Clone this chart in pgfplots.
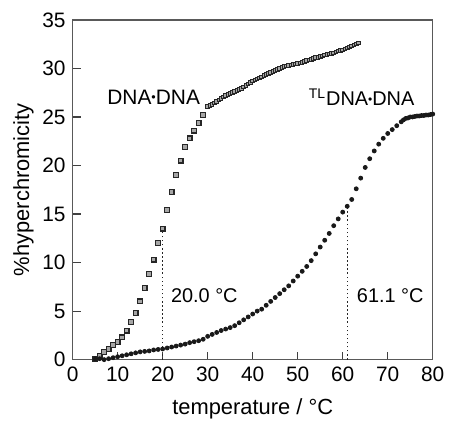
\documentclass[border=0pt]{standalone}
\usepackage{fontspec}
\setmainfont{Liberation Sans}
\usepackage{pgfplots}
\pgfplotsset{compat=1.18}
\usetikzlibrary{calc}

\newcommand{\bdot}{\raisebox{0.28ex}{\scalebox{0.6}{•}}}

\begin{document}
\begin{tikzpicture}
\begin{axis}[
    scale only axis,
    width=181pt, height=170.75pt,
    xmin=0, xmax=80,
    ymin=0, ymax=35,
    xtick={0,10,...,80},
    ytick={0,5,...,35},
    tick align=inside,
    xtick pos=bottom, ytick pos=left,
    major tick length=4pt,
    axis line style={draw=black!65, line width=0.7pt},
    tick style={black!75, line width=0.6pt},
    tick label style={font=\fontsize{10.5}{12}\selectfont},
    /pgf/number format/assume math mode=true,
    xlabel={temperature / °C},
    ylabel={\%hyperchromicity},
    label style={font=\fontsize{11}{13}\selectfont},
    xlabel style={yshift=-2pt},
    ylabel style={yshift=-2.5pt},
    clip=false,
]

% DNA.DNA
\addplot[only marks, mark=square*, mark size=1.2pt, draw=black!85,
         mark options={line width=0.6pt, fill=black!35}]
    coordinates {
    (5,0.1)(6,0.4)(7,0.8)(8,1.1)(9,1.5)(10,1.8)(11,2.3)(12,3.0)(13,3.9)(14,4.8)
    (15,6.0)(16,7.4)(17,8.8)(18,10.3)(19,12.0)(20,13.5)(21,15.4)(22,17.3)(23,19.0)
    (24,20.5)(25,21.9)(26,22.8)(27,23.6)(28,24.4)(29,25.2)
    };
\addplot[only marks, mark=square*, mark size=0.9pt, draw=black!85,
         mark options={line width=0.5pt, fill=black!35}]
    coordinates {
    (30,26.1)(30.5,26.2)(31,26.3)(31.5,26.45)(32,26.6)(32.5,26.75)(33,26.9)(33.5,27.05)
    (34,27.2)(34.5,27.3)(35,27.4)(35.5,27.5)(36,27.6)(36.5,27.7)(37,27.8)(37.5,27.95)
    (38,28.1)(38.5,28.25)(39,28.4)(39.5,28.55)(40,28.7)(40.5,28.8)(41,28.9)(41.5,29.0)
    (42,29.1)(42.5,29.25)(43,29.4)(43.5,29.5)(44,29.6)(44.5,29.7)(45,29.8)(45.5,29.9)
    (46,30.0)(46.5,30.1)(47,30.2)(47.5,30.25)(48,30.3)(48.5,30.35)(49,30.4)(49.5,30.45)
    (50,30.5)(50.5,30.55)(51,30.6)(51.5,30.7)(52,30.8)(52.5,30.85)(53,30.9)(53.5,31.0)
    (54,31.1)(54.5,31.15)(55,31.2)(55.5,31.3)(56,31.4)(56.5,31.45)(57,31.5)(57.5,31.55)
    (58,31.6)(58.5,31.7)(59,31.8)(59.5,31.85)(60,31.9)(60.5,32.0)(61,32.1)(61.5,32.2)
    (62,32.3)(62.5,32.4)(63,32.5)(63.5,32.6)
    };

% TLDNA.DNA
\addplot[only marks, mark=*, mark size=1.0pt, black!90]
    coordinates {
    (5,0.1)(6,0.1)(7,0.0)(8,0.1)(9,0.2)(10,0.3)(11,0.4)(12,0.5)(13,0.6)(14,0.7)
    (15,0.8)(16,0.85)(17,0.9)(18,1.0)(19,1.05)(20,1.1)(21,1.2)(22,1.3)(23,1.4)(24,1.5)
    (25,1.6)(26,1.75)(27,1.85)(28,1.95)(29,2.1)(30,2.4)(31,2.6)(32,2.8)(33,3.0)(34,3.15)
    (35,3.3)(36,3.5)(37,3.8)(38,4.1)(39,4.4)(40,4.7)(41,5.0)(42,5.2)(43,5.6)(44,6.0)
    (45,6.4)(46,6.8)(47,7.2)(48,7.6)(49,8.1)(50,8.6)(51,9.1)(52,9.6)(53,10.2)(54,10.9)
    (55,11.6)(56,12.3)(57,13.0)(58,13.8)(59,14.5)(60,15.2)(61,15.8)(62,16.5)(63,17.6)
    (64,18.7)(65,19.8)(66,20.7)(67,21.5)(68,22.2)(69,22.8)(70,23.3)(71,23.7)(72,24.1)
    (73,24.5)(73.5,24.7)(74,24.85)(74.5,24.9)(75,25.0)(75.5,25.0)(76,25.05)(76.5,25.1)
    (77,25.1)(77.5,25.15)(78,25.15)(78.5,25.2)(79,25.2)(79.5,25.25)(80,25.3)
    };

% Tm markers
\addplot[black!85, line width=0.75pt, dash pattern=on 0.75pt off 1.3pt] coordinates {(20,0)(20,13.5)};
\addplot[black!85, line width=0.75pt, dash pattern=on 0.75pt off 1.3pt] coordinates {(61.1,0)(61.1,15.8)};

\node[font=\fontsize{10}{12}\selectfont, anchor=west] at (axis cs:20.3,6.6) {20.0 °C};
\node[font=\fontsize{10}{12}\selectfont, anchor=west] at (axis cs:61.6,6.6) {61.1 °C};
\node[font=\fontsize{10.5}{12}\selectfont] at (axis cs:18.0,27.0) {DNA\bdot DNA};
\node[font=\fontsize{10}{12}\selectfont] at (axis cs:64.2,27.0) {\textsuperscript{TL}DNA\bdot DNA};
\end{axis}
\path ($(current axis.south west)+(-36.5pt,-33.75pt)$) rectangle ($(current axis.north east)+(8pt,10pt)$);
\end{tikzpicture}
\end{document}
